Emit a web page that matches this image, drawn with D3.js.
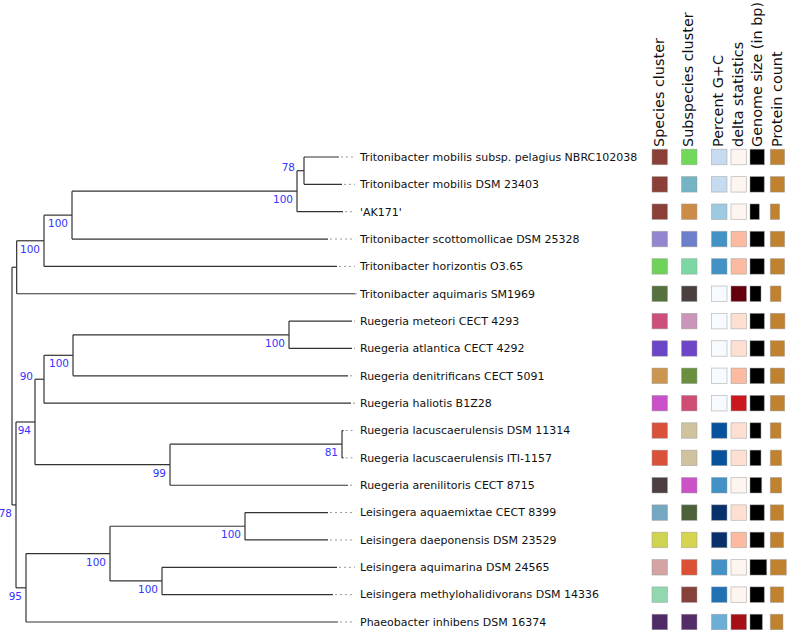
<!DOCTYPE html>
<html><head><meta charset="utf-8">
<script src="https://cdn.jsdelivr.net/npm/d3@7"></script>
<style>body{margin:0;background:#fff} svg{display:block}</style>
</head><body>
<svg id="chart" width="787" height="630"></svg>
<script>
// ---- tree topology (internal nodes) ----
const internalIds     = ["root","T","T2","T3","T4","T5","RL","R","R2","R3","R4","R5","R6","L","L2","L3","L4"];
const internalParents = [null,"root","T","T2","T3","T4","root","RL","R","R2","R3","R","R5","RL","L","L2","L2"];
const internalLengths = [0,0.0014,0.0082,0.0084,0.0675,0.0021,0.0012,0.0057,0.0027,0.0087,0.0648,0.0405,0.0516,0.0030,0.0252,0.0405,0.0156];
const internalSupport = [null,null,100,100,100,78,78,94,90,100,100,99,81,95,100,100,100];

// ---- leaves ----
const leafNames = [
  "Tritonibacter mobilis subsp. pelagius NBRC102038",
  "Tritonibacter mobilis DSM 23403",
  "'AK171'",
  "Tritonibacter scottomollicae DSM 25328",
  "Tritonibacter horizontis O3.65",
  "Tritonibacter aquimaris SM1969",
  "Ruegeria meteori CECT 4293",
  "Ruegeria atlantica CECT 4292",
  "Ruegeria denitrificans CECT 5091",
  "Ruegeria haliotis B1Z28",
  "Ruegeria lacuscaerulensis DSM 11314",
  "Ruegeria lacuscaerulensis ITI-1157",
  "Ruegeria arenilitoris CECT 8715",
  "Leisingera aquaemixtae CECT 8399",
  "Leisingera daeponensis DSM 23529",
  "Leisingera aquimarina DSM 24565",
  "Leisingera methylohalidivorans DSM 14336",
  "Phaeobacter inhibens DSM 16374"
];
const leafParents = ["T5","T5","T4","T3","T2","T","R4","R4","R3","R2","R6","R6","R5","L3","L3","L4","L4","L"];
const leafLengths = [0.0105,0.0114,0.0138,0.0768,0.0879,0.1015,0.0189,0.0189,0.0825,0.0921,0.00045,0.00045,0.0534,0.0249,0.0249,0.0525,0.0513,0.0936];

// ---- annotation columns ----
const columnTitles = ["Species cluster","Subspecies cluster","Percent G+C","delta statistics","Genome size (in bp)","Protein count"];
const speciesCluster = [1,1,1,2,3,4,5,6,7,8,9,9,10,11,12,13,14,15];
const speciesPalette = {1:"#8a3f37",2:"#9585cf",3:"#6fd35a",4:"#55713d",5:"#cc4f7d",6:"#6a45c6",7:"#cc9550",8:"#c950c8",9:"#d9503b",10:"#4d3f40",11:"#74a7c2",12:"#cdd44f",13:"#d3a4a3",14:"#91d8b0",15:"#4f2b66"};
const subspeciesCluster = [1,2,3,4,5,6,7,8,9,10,11,11,12,13,14,15,16,17];
const subspeciesPalette = {1:"#72d859",2:"#73b5c4",3:"#cc8c48",4:"#6d7fca",5:"#7cd8a3",6:"#4b4040",7:"#c995bb",8:"#6f45c8",9:"#6a903f",10:"#cf4d72",11:"#cec29f",12:"#c953c7",13:"#4c613a",14:"#d6d450",15:"#dc5134",16:"#86413a",17:"#542c68"};
const gcClass    = [2,2,3,5,5,0,0,0,0,0,7,7,5,8,8,5,6,4];   // Blues, 9 classes
const deltaClass = [0,0,0,2,2,8,1,1,2,6,1,1,0,1,2,0,0,7];   // Reds, 9 classes
const genomeSize = [4880000,4850000,3170000,4880000,4860000,3750000,4880000,4870000,4860000,4860000,3740000,3740000,3990000,4860000,4850000,5690000,4870000,4200000];
const proteinCount = [4600,4590,2990,4610,4590,3440,4700,4600,4590,4610,3440,3630,3640,4280,4270,5150,4300,4080];

// ---- build hierarchy ----
const rows = internalIds.map((id,i)=>({id, parent: internalParents[i], len: internalLengths[i], support: internalSupport[i]}))
  .concat(leafNames.map((n,i)=>({id:n, parent: leafParents[i], len: leafLengths[i], support:null})));
const root = d3.stratify().id(d=>d.id).parentId(d=>d.parent)(rows);
root.eachBefore(n => { n.dist = n.parent ? n.parent.dist + n.data.len : 0; });
const maxDist = d3.max(root.leaves(), d=>d.dist);

const x = d3.scaleLinear().domain([0, maxDist]).range([12, 355]);
const y = d3.scaleLinear().domain([0, leafNames.length-1]).range([157, 622]);
const leaves = root.leaves();
leaves.forEach((l,i)=>{ l.y = y(i); l.idx = i; });
root.eachAfter(n => { if (n.children) n.y = (n.children[0].y + n.children[n.children.length-1].y)/2; });

const svg = d3.select("#chart");
const font = "DejaVu Sans, Verdana, sans-serif";
const gTree = svg.append("g");

// horizontal branches
gTree.selectAll("line.h").data(root.descendants().filter(d=>d.parent)).join("line")
  .attr("x1", d=>x(d.parent.dist)).attr("x2", d=>x(d.dist))
  .attr("y1", d=>d.y).attr("y2", d=>d.y)
  .attr("stroke","#333").attr("stroke-width",1.2);
// vertical connectors
gTree.selectAll("line.v").data(root.descendants().filter(d=>d.children)).join("line")
  .attr("x1", d=>x(d.dist)).attr("x2", d=>x(d.dist))
  .attr("y1", d=>d.children[0].y).attr("y2", d=>d.children[d.children.length-1].y)
  .attr("stroke","#333").attr("stroke-width",1.2);
// dotted leaders
gTree.selectAll("line.dot").data(leaves).join("line")
  .attr("x1", d=>x(d.dist)+2).attr("x2", x(maxDist))
  .attr("y1", d=>d.y).attr("y2", d=>d.y)
  .attr("stroke","#999").attr("stroke-width",1).attr("stroke-dasharray","2,3");
// leaf labels
gTree.selectAll("text.leaf").data(leaves).join("text")
  .attr("x", x(maxDist)+5).attr("y", d=>d.y).attr("dy","0.35em")
  .attr("font-family", font).attr("font-size", 11).attr("fill","#111")
  .text(d=>d.data.id);

// support labels
const supNodes = root.descendants().filter(d=>d.data.support != null);
supNodes.forEach(n => {
  const t = gTree.append("text").attr("font-family", font).attr("font-size", 10.5)
    .attr("fill","#3535ff").attr("text-anchor","end").text(n.data.support);
  const w = t.node().getComputedTextLength();
  const nx = x(n.dist), px = x(n.parent.dist);
  const left = nx - 4 - w;
  const p = n.parent;
  const spanTop = p.children[0].y, spanBot = p.children[p.children.length-1].y;
  const labTop = n.y + 4, labBot = n.y + 13;
  const crosses = left < px && labBot > spanTop && labTop < spanBot;
  if (crosses) {
    t.attr("x", px - 2).attr("y", n.y - 3).attr("dy","0.35em");
  } else {
    t.attr("x", nx - 4).attr("y", n.y + 8.5).attr("dy","0.35em");
  }
});

// ---- annotation columns ----
const colX = [652, 681.5, 711.5, 731, 750, 770.3];
const box = 15.5;
const blues = d3.schemeBlues[9], reds = d3.schemeReds[9];
const gW = d3.scaleLinear().domain([0, d3.max(genomeSize)]).range([0, 16.7]);
const pW = d3.scaleLinear().domain([0, d3.max(proteinCount)]).range([0, 16]);

const gAnn = svg.append("g");
columnTitles.forEach((t,i)=>{
  gAnn.append("text").attr("transform", `translate(${colX[i]+box/2+4},147) rotate(-90)`)
    .attr("font-family", font).attr("font-size", 14.4).attr("fill","#111").text(t);
});
const cols = [
  {x: colX[0], fill: i=>speciesPalette[speciesCluster[i]], w: ()=>box},
  {x: colX[1], fill: i=>subspeciesPalette[subspeciesCluster[i]], w: ()=>box},
  {x: colX[2], fill: i=>blues[gcClass[i]], w: ()=>box},
  {x: colX[3], fill: i=>reds[deltaClass[i]], w: ()=>box},
  {x: colX[4], fill: ()=>"#000", w: i=>gW(genomeSize[i])},
  {x: colX[5], fill: ()=>"#c0822f", w: i=>pW(proteinCount[i])}
];
cols.forEach(c=>{
  gAnn.append("g").selectAll("rect").data(leaves).join("rect")
    .attr("x", c.x).attr("y", d=>d.y - box/2)
    .attr("width", d=>c.w(d.idx)).attr("height", box)
    .attr("fill", d=>c.fill(d.idx))
    .attr("stroke","#999").attr("stroke-opacity",0.6).attr("stroke-width",0.8);
});
</script>
</body></html>
